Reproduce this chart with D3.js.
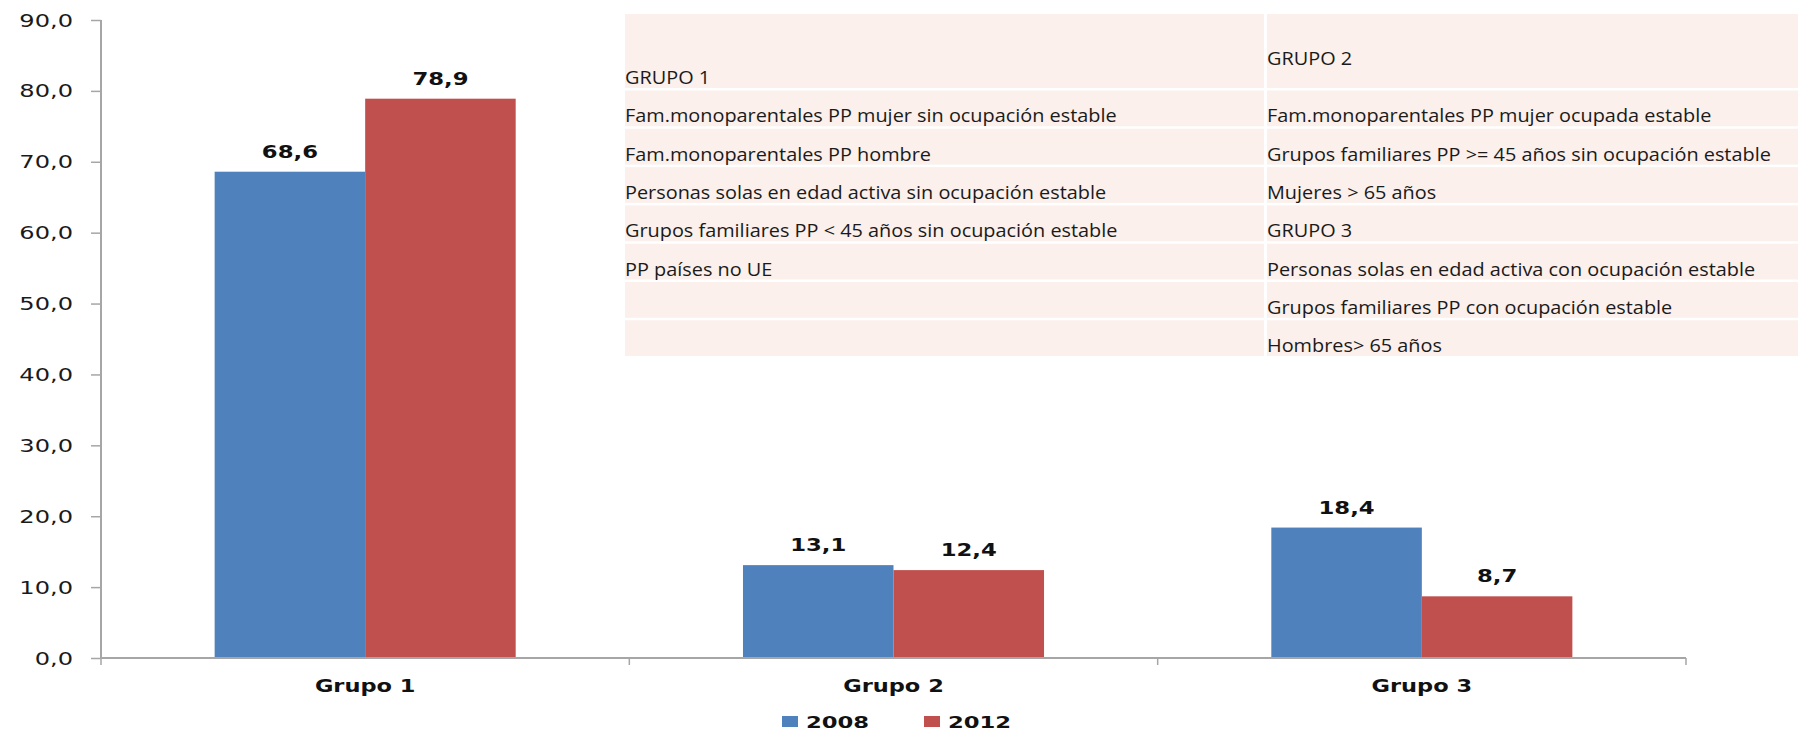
<!DOCTYPE html>
<html>
<head>
<meta charset="utf-8">
<script src="https://cdn.jsdelivr.net/npm/d3@7"></script>
<style>
  html, body { margin: 0; padding: 0; background: #ffffff; }
  svg { display: block; }
</style>
</head>
<body>
<svg id="chart" width="1798" height="732"></svg>
<script>
// ---- data ----
const categories = ["Grupo 1", "Grupo 2", "Grupo 3"];
const seriesNames = ["2008", "2012"];
const values2008 = [68.6, 13.1, 18.4];
const values2012 = [78.9, 12.4, 8.7];
const yTicks = [0, 10, 20, 30, 40, 50, 60, 70, 80, 90];
const tableLeft = ["GRUPO 1",
  "Fam.monoparentales PP mujer sin ocupación estable",
  "Fam.monoparentales PP hombre",
  "Personas solas en edad activa sin ocupación estable",
  "Grupos familiares PP < 45 años sin ocupación estable",
  "PP países no UE", "", ""];
const tableRight = ["GRUPO 2",
  "Fam.monoparentales PP mujer ocupada estable",
  "Grupos familiares PP >= 45 años sin ocupación estable",
  "Mujeres > 65 años",
  "GRUPO 3",
  "Personas solas en edad activa con ocupación estable",
  "Grupos familiares PP con ocupación estable",
  "Hombres> 65 años"];

const colors = {"2008": "#4F81BD", "2012": "#C0504D"};
const fmt = v => d3.format(".1f")(v).replace(".", ",");

const svg = d3.select("#chart");
const plot = {left: 101, right: 1686, top: 20, bottom: 658};

const x0 = d3.scaleBand().domain(categories).range([plot.left, plot.right]).paddingInner(0).paddingOuter(0);
const x1 = d3.scaleBand().domain(seriesNames).range([0, x0.bandwidth()]).paddingInner(0).paddingOuter(0.755);
const y = d3.scaleLinear().domain([0, 90]).range([plot.bottom, plot.top]);

const rows = categories.map((c, i) => ({cat: c, vals: [
  {s: "2008", v: values2008[i]}, {s: "2012", v: values2012[i]}]}));

// ---- table (drawn behind bars) ----
const tbl = svg.append("g");
const rowEdges = [14, 89, 127.3, 165.6, 203.9, 242.2, 280.5, 318.8, 357];
const cols = [{x: 625, w: 639, texts: tableLeft, first: "bottom"},
              {x: 1267, w: 531, texts: tableRight, first: "middle"}];
cols.forEach(col => {
  col.texts.forEach((t, i) => {
    const top = rowEdges[i] + (i === 0 ? 0 : 1.5);
    const bot = rowEdges[i + 1] - 1;
    tbl.append("rect").attr("x", col.x).attr("y", top)
      .attr("width", col.w).attr("height", bot - top).attr("fill", "#FBF0EB");
    let base = bot - 4;
    if (i === 0 && col.first === "middle") base = 65;
    tbl.append("text").attr("transform", `translate(${col.x},${base}) scale(1.075,1)`)
      .attr("font-family", "'Open Sans', 'Noto Sans', sans-serif")
      .attr("font-size", 18.5).attr("fill", "#1a1a1a").text(t);
  });
});

// ---- bars ----
const g = svg.append("g");
const grp = g.selectAll("g.grp").data(rows).join("g")
  .attr("transform", d => `translate(${x0(d.cat)},0)`);
grp.selectAll("rect").data(d => d.vals).join("rect")
  .attr("x", d => x1(d.s)).attr("width", x1.bandwidth())
  .attr("y", d => y(d.v)).attr("height", d => y(0) - y(d.v))
  .attr("fill", d => colors[d.s]);
grp.selectAll("text").data(d => d.vals).join("text")
  .attr("transform", d => `translate(${x1(d.s) + x1.bandwidth() / 2},${y(d.v) - 14}) scale(1.3,1)`)
  .attr("text-anchor", "middle")
  .attr("font-family", "'DejaVu Sans', Verdana, sans-serif")
  .attr("font-weight", "bold").attr("font-size", 17.5).attr("fill", "#111")
  .text(d => fmt(d.v));

// ---- axes ----
const axisColor = "#A6A6A6";
const yAxis = svg.append("g").attr("transform", `translate(${plot.left},0)`)
  .call(d3.axisLeft(y).tickValues(yTicks).tickSize(10).tickPadding(0).tickFormat(() => ""));
yAxis.select(".domain").attr("stroke", axisColor).attr("stroke-width", 2).attr("d", `M0,${plot.top}V${plot.bottom}`);
yAxis.selectAll(".tick line").attr("stroke", axisColor).attr("stroke-width", 1.5);
yAxis.selectAll(".tick text").remove();
svg.append("g").selectAll("text").data(yTicks).join("text")
  .attr("transform", d => `translate(73,${y(d) + 6.5}) scale(1.42,1)`)
  .attr("text-anchor", "end")
  .attr("font-family", "'DejaVu Sans', Verdana, sans-serif")
  .attr("font-size", 17).attr("fill", "#1a1a1a")
  .text(d => fmt(d));

const xAxis = svg.append("g").attr("transform", `translate(0,${plot.bottom})`);
xAxis.append("path").attr("d", `M${plot.left},0H${plot.right}`)
  .attr("stroke", axisColor).attr("stroke-width", 2).attr("fill", "none");
const boundaries = categories.map(c => x0(c)).concat([plot.right]);
xAxis.selectAll("line").data(boundaries).join("line")
  .attr("x1", d => d).attr("x2", d => d).attr("y1", 0).attr("y2", 7)
  .attr("stroke", axisColor).attr("stroke-width", 1.5);
xAxis.selectAll("text").data(categories).join("text")
  .attr("transform", d => `translate(${x0(d) + x0.bandwidth() / 2},33.5) scale(1.25,1)`)
  .attr("text-anchor", "middle")
  .attr("font-family", "'DejaVu Sans', Verdana, sans-serif")
  .attr("font-weight", "bold").attr("font-size", 18).attr("fill", "#111")
  .text(d => d);

// ---- legend ----
const legendX = [782, 924];
const lg = svg.append("g").selectAll("g").data(seriesNames).join("g")
  .attr("transform", (d, i) => `translate(${legendX[i]},716)`);
lg.append("rect").attr("width", 16).attr("height", 11).attr("fill", d => colors[d]);
lg.append("text")
  .attr("transform", "translate(24,11.5) scale(1.42,1)")
  .attr("font-family", "'DejaVu Sans', Verdana, sans-serif")
  .attr("font-weight", "bold").attr("font-size", 16).attr("fill", "#111")
  .text(d => d);
</script>
</body>
</html>
